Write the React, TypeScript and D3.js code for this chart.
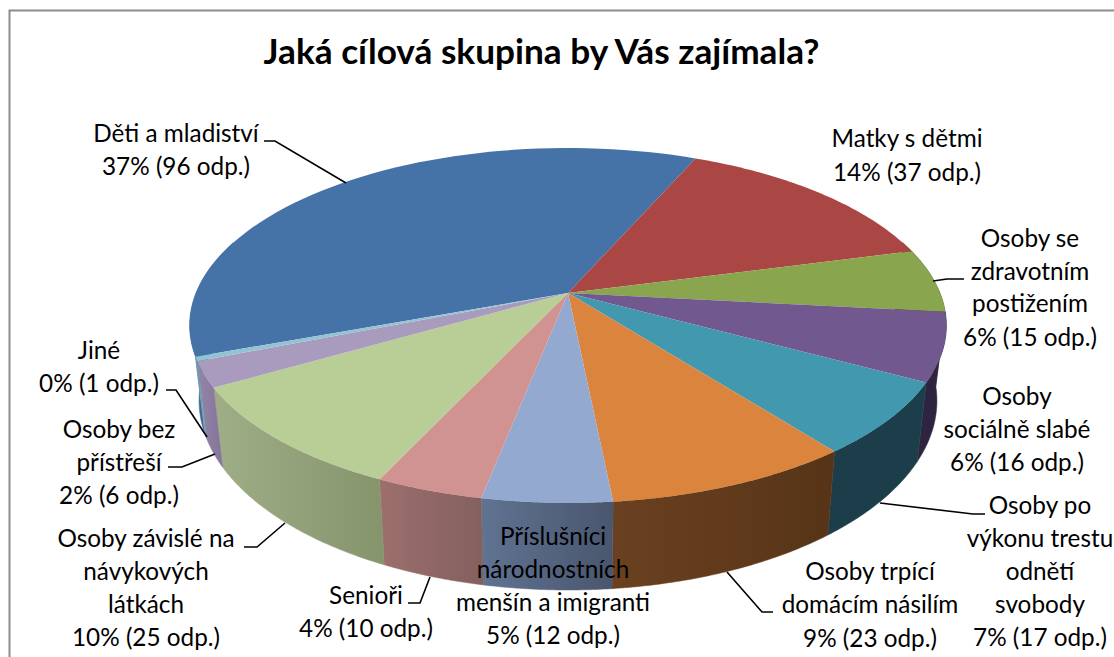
import React from "react";
import * as d3 from "d3";

// ---- data ----
const categories = [
  "Děti a mladiství", "Matky s dětmi", "Osoby se zdravotním postižením", "Osoby sociálně slabé",
  "Osoby po výkonu trestu odnětí svobody", "Osoby trpící domácím násilím",
  "Příslušníci národnostních menšín a imigranti", "Senioři", "Osoby závislé na návykových látkách",
  "Osoby bez přístřeší", "Jiné",
];
const answers = [96, 37, 15, 16, 17, 23, 12, 10, 25, 6, 1];
const percents = [37, 14, 6, 6, 7, 9, 5, 4, 10, 2, 0];
const title = "Jaká cílová skupina by Vás zajímala?";

// ---- styles / layout ----
const topColors = ["#4572A7", "#AA4643", "#89A54E", "#71588F", "#4198AF", "#DB843D", "#93A9CF", "#D19392", "#B9CD96", "#A99BBD", "#92C3D4"];
const wallColors: [string, string][] = [
  ["#3F6B9C", "#335a85"], ["#5a2a28", "#5a2a28"], ["#4a5a2a", "#4a5a2a"], ["#2e2440", "#2e2440"],
  ["#1c3e4a", "#1c3e4a"], ["#6a4120", "#573417"], ["#5f7392", "#4a566e"], ["#9c6f6d", "#83605e"],
  ["#a0ae88", "#86946c"], ["#9585a8", "#84749a"], ["#6fa0b0", "#6fa0b0"],
];
const labelLayout: { cx: number; ys: number[]; lines: string[] }[] = [
  { cx: 176, ys: [142, 175], lines: ["Děti a mladiství"] },
  { cx: 907, ys: [147, 181], lines: ["Matky s dětmi"] },
  { cx: 1030, ys: [247, 280, 312, 346], lines: ["Osoby se", "zdravotním", "postižením"] },
  { cx: 1017, ys: [405, 438, 471], lines: ["Osoby", "sociálně slabé"] },
  { cx: 1040, ys: [514, 547, 580, 613, 646], lines: ["Osoby po", "výkonu trestu", "odnětí", "svobody"] },
  { cx: 870, ys: [580, 613, 647], lines: ["Osoby trpící", "domácím násilím"] },
  { cx: 553, ys: [545, 578, 611, 644], lines: ["Příslušníci", "národnostních", "menšín a imigranti"] },
  { cx: 366, ys: [604, 637], lines: ["Senioři"] },
  { cx: 146, ys: [547, 580, 613, 646], lines: ["Osoby závislé na", "návykových", "látkách"] },
  { cx: 119, ys: [438, 471, 504], lines: ["Osoby bez", "přístřeší"] },
  { cx: 99, ys: [359, 392], lines: ["Jiné"] },
];
const leaders: [number, number][][] = [
  [[264, 141], [275, 141], [346, 183]],
  [[166, 390], [176, 390], [207, 437]],
  [[168, 467], [182, 467], [215, 454]],
  [[244, 547], [257, 547], [285, 523]],
  [[408, 603], [420, 603], [430, 577]],
  [[773, 612], [762, 612], [727, 572]],
  [[985, 514], [973, 514], [880, 503]],
  [[964, 279], [947, 279], [933, 281]],
];

const FONT = "Lato, sans-serif";
const W = 1114, H = 657;
const cx = 568, cy = 293, Rx = 372, Ry = 171.5, k = 0.183;
const wallScaleX = 0.975, wallScaleY = 1.067, wallDrop = 73;
const FIRST = (-110.35 * Math.PI) / 180;

// perspective projection of a point on the pie's rim
function rim(theta: number): [number, number] {
  const x = Math.sin(theta), y = -Math.cos(theta), w = 1 - k * y;
  return [cx + (Rx * x) / w, cy + (Ry * y) / w];
}
function rimBottom(theta: number): [number, number] {
  const [X, Y] = rim(theta);
  return [cx + (X - cx) * wallScaleX, cy + wallDrop + (Y - cy) * wallScaleY];
}
const angleSteps = (a: number, b: number) => d3.range(0, 61).map((i) => a + ((b - a) * i) / 60);
const line = d3.line<[number, number]>();

export default function App() {
  const arcs = d3
    .pie<number>()
    .sort(null)
    .startAngle(FIRST)
    .endAngle(FIRST + 2 * Math.PI)(answers);

  // walls only matter between the right and left extremes; the top face hides the rest
  const VIS_A = Math.PI * 0.4, VIS_B = Math.PI * 1.6;
  const walls = arcs.flatMap((d) => {
    return [0, 2 * Math.PI].map((off) => {
      const a = Math.max(d.startAngle + off, VIS_A), b = Math.min(d.endAngle + off, VIS_B);
      if (b <= a) return null;
      const steps = angleSteps(a, b);
      const pts = [...steps.map(rim), ...steps.slice().reverse().map(rimBottom)];
      const xs = pts.map((p) => p[0]);
      return { i: d.index, path: line(pts) + "Z", x0: d3.min(xs)!, x1: d3.max(xs)! };
    }).filter(Boolean) as { i: number; path: string; x0: number; x1: number }[];
  });

  return (
    <svg width={W} height={H} viewBox={`0 0 ${W} ${H}`} style={{ position: "absolute", left: 0, top: 0, background: "#fff" }} fontFamily={FONT}>
      <defs>
        {walls.map((w, n) => (
          <linearGradient key={n} id={`w${n}`} gradientUnits="userSpaceOnUse" x1={w.x0} x2={w.x1} y1={0} y2={0}>
            <stop offset="0" stopColor={wallColors[w.i][0]} />
            <stop offset="1" stopColor={wallColors[w.i][1]} />
          </linearGradient>
        ))}
      </defs>
      <path d={`M9.5 ${H}V10.5H${W}`} fill="none" stroke="#8c8c8c" strokeWidth={2} />
      <text x={541.5} y={64} textAnchor="middle" fontWeight={700} fontSize={35.2} fill="#000">{title}</text>

      {walls.map((w, n) => (
        <path key={n} d={w.path} fill={`url(#w${n})`} stroke={`url(#w${n})`} strokeWidth={0.5} />
      ))}
      {arcs.map((d) => {
        const pts: [number, number][] = [[cx, cy], ...angleSteps(d.startAngle, d.endAngle).map(rim)];
        return <path key={d.index} d={line(pts) + "Z"} fill={topColors[d.index]} />;
      })}

      {leaders.map((l, i) => (
        <path key={i} d={line(l)!} fill="none" stroke="#000" strokeWidth={1.6} />
      ))}
      {categories.map((c, i) => {
        const lay = labelLayout[i];
        const rows = [...lay.lines, `${percents[i]}% (${answers[i]} odp.)`];
        return (
          <text key={c} textAnchor="middle" fontSize={24.3} fill="#000">
            {rows.map((r, j) => (
              <tspan key={j} x={lay.cx} y={lay.ys[j]}>{r}</tspan>
            ))}
          </text>
        );
      })}
    </svg>
  );
}
